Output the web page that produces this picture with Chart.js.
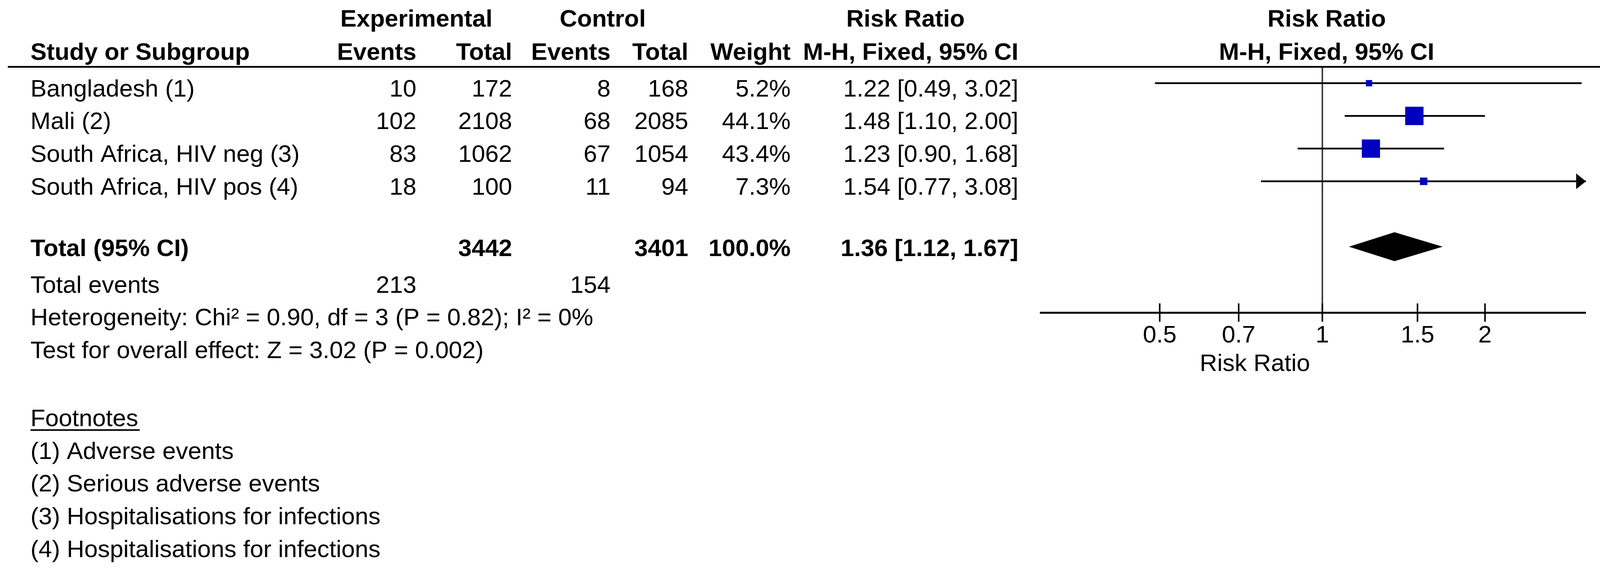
<!DOCTYPE html>
<html>
<head>
<meta charset="utf-8">
<script src="https://cdn.jsdelivr.net/npm/chart.js@4.4.1/dist/chart.umd.min.js"></script>
<style>
  html, body { margin: 0; padding: 0; background: #fff; }
  #forestWrap { position: relative; width: 4132px; height: 1458px; }
</style>
</head>
<body>
<div id="forestWrap"><canvas id="chartForest"></canvas></div>
<script>
// Forest plot — Risk Ratio, M-H fixed, 95% CI

// --- Data ---
const studies   = ['Bangladesh (1)', 'Mali (2)', 'South Africa, HIV neg (3)', 'South Africa, HIV pos (4)'];
const expEvents = [10, 102, 83, 18];
const expTotal  = [172, 2108, 1062, 100];
const ctlEvents = [8, 68, 67, 11];
const ctlTotal  = [168, 2085, 1054, 94];
const weights   = [5.2, 44.1, 43.4, 7.3];
const rr        = [1.22, 1.48, 1.23, 1.54];
const ciLow     = [0.49, 1.10, 0.90, 0.77];
const ciHigh    = [3.02, 2.00, 1.68, 3.08];

const totalExp       = 3442;
const totalCtl       = 3401;
const totalWeight    = 100.0;
const totalRR        = 1.36;
const totalLow       = 1.12;
const totalHigh      = 1.67;
const totalExpEvents = 213;
const totalCtlEvents = 154;

const heterogeneityText = 'Heterogeneity: Chi² = 0.90, df = 3 (P = 0.82); I² = 0%';
const overallText       = 'Test for overall effect: Z = 3.02 (P = 0.002)';
const footnotes         = ['(1) Adverse events', '(2) Serious adverse events',
                           '(3) Hospitalisations for infections', '(4) Hospitalisations for infections'];

const xTicks = [0.5, 0.7, 1, 1.5, 2];
const xMin   = 0.327;
const xMax   = 3.075;

// --- Layout (table columns, px) ---
const FONT      = '"Liberation Sans", Arial, sans-serif';
const FS        = 62;
const colStudy  = 78;
const colExpEv  = 1066, colExpTot = 1311, colCtlEv = 1563, colCtlTot = 1762;
const colWeight = 2024, colCI = 2607;

// row values on the y scale (0..3 = studies)
const rowTotal = 4.88, rowDiamond = 5, rowEvents = 6, rowHet = 7, rowTest = 8;
const rowHead1 = -2.14, rowHead2 = -1.12, rowFoot = 10.08;

const fmtCI = (m, l, h) => `${m.toFixed(2)} [${l.toFixed(2)}, ${h.toFixed(2)}]`;

const forestDecor = {
  id: 'forestDecor',
  beforeDatasetsDraw(chart) {
    const { ctx, chartArea: a, scales: { x } } = chart;
    const x1 = x.getPixelForValue(1);
    ctx.save();
    ctx.strokeStyle = '#3c3c3c';
    ctx.lineWidth = 4;
    ctx.beginPath(); ctx.moveTo(x1, a.top); ctx.lineTo(x1, a.bottom); ctx.stroke();
    ctx.restore();
  },
  afterDatasetsDraw(chart) {
    const { ctx, chartArea: a, scales: { x, y } } = chart;
    const base = v => y.getPixelForValue(v) + 34;   // text baseline for a row
    const txt = (s, px, v, align, bold) => {
      ctx.font = `${bold ? 'bold ' : ''}${FS}px ${FONT}`;
      ctx.textAlign = align;
      ctx.fillText(s, px, base(v));
    };
    ctx.save();
    ctx.fillStyle = '#000';
    ctx.strokeStyle = '#000';
    ctx.textBaseline = 'alphabetic';

    // headers
    const xh = x.getPixelForValue(1) + 11;
    txt('Experimental', colExpEv, rowHead1, 'center', true);
    txt('Control', 1543, rowHead1, 'center', true);
    txt('Risk Ratio', 2318, rowHead1, 'center', true);
    txt('Risk Ratio', xh, rowHead1, 'center', true);
    txt('Study or Subgroup', colStudy, rowHead2, 'left', true);
    txt('Events', colExpEv, rowHead2, 'right', true);
    txt('Total', colExpTot, rowHead2, 'right', true);
    txt('Events', colCtlEv, rowHead2, 'right', true);
    txt('Total', colCtlTot, rowHead2, 'right', true);
    txt('Weight', colWeight, rowHead2, 'right', true);
    txt('M-H, Fixed, 95% CI', colCI, rowHead2, 'right', true);
    txt('M-H, Fixed, 95% CI', xh, rowHead2, 'center', true);

    // header rule
    ctx.lineWidth = 4.5;
    ctx.beginPath(); ctx.moveTo(20, a.top); ctx.lineTo(chart.width, a.top); ctx.stroke();

    // study rows
    studies.forEach((s, i) => {
      txt(s, colStudy, i, 'left');
      txt(String(expEvents[i]), colExpEv, i, 'right');
      txt(String(expTotal[i]), colExpTot, i, 'right');
      txt(String(ctlEvents[i]), colCtlEv, i, 'right');
      txt(String(ctlTotal[i]), colCtlTot, i, 'right');
      txt(weights[i].toFixed(1) + '%', colWeight, i, 'right');
      txt(fmtCI(rr[i], ciLow[i], ciHigh[i]), colCI, i, 'right');

      // arrow where the CI runs off the scale
      if (ciHigh[i] > xMax) {
        const py = y.getPixelForValue(i);
        ctx.beginPath();
        ctx.moveTo(a.right, py);
        ctx.lineTo(a.right - 25, py - 20);
        ctx.lineTo(a.right - 25, py + 20);
        ctx.closePath();
        ctx.fill();
      }
    });

    // total row
    txt('Total (95% CI)', colStudy, rowTotal, 'left', true);
    txt(String(totalExp), colExpTot, rowTotal, 'right', true);
    txt(String(totalCtl), colCtlTot, rowTotal, 'right', true);
    txt(totalWeight.toFixed(1) + '%', colWeight, rowTotal, 'right', true);
    txt(fmtCI(totalRR, totalLow, totalHigh), colCI, rowTotal, 'right', true);

    txt('Total events', colStudy, rowEvents, 'left');
    txt(String(totalExpEvents), colExpEv, rowEvents, 'right');
    txt(String(totalCtlEvents), colCtlEv, rowEvents, 'right');
    txt(heterogeneityText, colStudy, rowHet, 'left');
    txt(overallText, colStudy, rowTest, 'left');

    // footnotes
    txt('Footnotes', colStudy, rowFoot, 'left');
    ctx.font = `${FS}px ${FONT}`;
    const fw = ctx.measureText('Footnotes').width;
    ctx.lineWidth = 4;
    ctx.beginPath();
    ctx.moveTo(colStudy, base(rowFoot) + 10);
    ctx.lineTo(colStudy + fw + 4, base(rowFoot) + 10);
    ctx.stroke();
    footnotes.forEach((f, k) => txt(f, colStudy, rowFoot + 1 + k, 'left'));

    // pooled diamond
    const dy = y.getPixelForValue(rowDiamond);
    ctx.beginPath();
    ctx.moveTo(x.getPixelForValue(totalLow), dy);
    ctx.lineTo(x.getPixelForValue(totalRR), dy - 37);
    ctx.lineTo(x.getPixelForValue(totalHigh), dy);
    ctx.lineTo(x.getPixelForValue(totalRR), dy + 37);
    ctx.closePath();
    ctx.fill();

    // x axis
    ctx.lineWidth = 5;
    ctx.beginPath(); ctx.moveTo(a.left, a.bottom); ctx.lineTo(a.right, a.bottom); ctx.stroke();
    ctx.lineWidth = 4;
    ctx.font = `${FS}px ${FONT}`;
    ctx.textAlign = 'center';
    xTicks.forEach(t => {
      const px = x.getPixelForValue(t);
      ctx.beginPath(); ctx.moveTo(px, a.bottom - 24); ctx.lineTo(px, a.bottom + 23); ctx.stroke();
      ctx.fillText(String(t), px, a.bottom + 76);
    });
    ctx.fillText('Risk Ratio', x.getPixelForValue(0.75), a.bottom + 149);

    ctx.restore();
  },
};

const canvas = document.getElementById('chartForest');
new Chart(canvas, {
  type: 'scatter',
  data: {
    datasets: [
      {
        label: 'Study RR',
        data: rr.map((v, i) => ({ x: v, y: i })),
        pointStyle: 'rect',
        pointRadius: weights.map(w => 5.0 * Math.sqrt(w)),
        backgroundColor: '#0000C0',
        borderWidth: 0,
        order: 0,
      },
      ...studies.map((s, i) => ({
        label: s,
        data: [{ x: ciLow[i], y: i }, { x: Math.min(ciHigh[i], xMax), y: i }],
        showLine: true,
        borderColor: '#000',
        borderWidth: 4.5,
        pointRadius: 0,
        order: 1,
      })),
    ],
  },
  options: {
    responsive: true,
    maintainAspectRatio: false,
    animation: false,
    layout: { padding: { left: 2662, right: 72, top: 171, bottom: 658 } },
    plugins: { legend: { display: false }, tooltip: { enabled: false } },
    scales: {
      x: { type: 'logarithmic', min: xMin, max: xMax, display: false },
      y: { type: 'linear', min: -0.5, max: 7.02, reverse: true, display: false },
    },
  },
  plugins: [forestDecor],
});
</script>
</body>
</html>
